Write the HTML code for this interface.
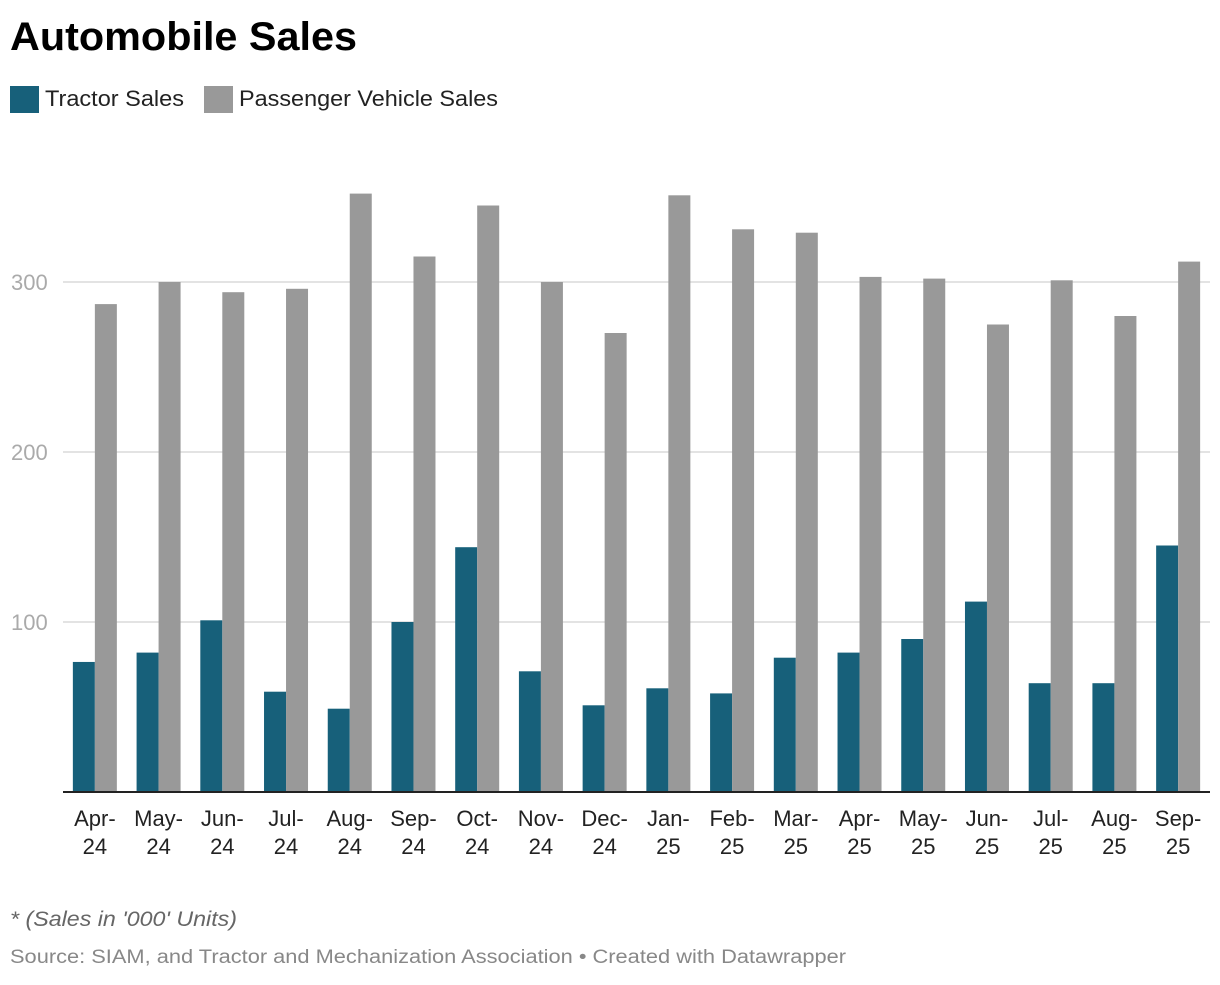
<!DOCTYPE html>
<html><head><meta charset="utf-8"><style>
body{margin:0;background:#fff;font-family:"Liberation Sans",Roboto,sans-serif;}
svg text{font-family:"Liberation Sans",sans-serif;}
</style></head><body>
<svg id="c" width="1220" height="980">
<text x="10" y="50" font-size="40" font-weight="bold" fill="#000" textLength="347" lengthAdjust="spacingAndGlyphs">Automobile Sales</text>
<g>
<rect x="10" y="86" width="29" height="27" fill="#17607a"/>
<text x="45" y="106" font-size="22" fill="#222" textLength="139" lengthAdjust="spacingAndGlyphs">Tractor Sales</text>
<rect x="204" y="86" width="29" height="27" fill="#999999"/>
<text x="239" y="106" font-size="22" fill="#222" textLength="259" lengthAdjust="spacingAndGlyphs">Passenger Vehicle Sales</text>
</g>
<g id="grid"></g><g id="bars"></g><g id="xl"></g>
<text x="10" y="926" font-size="21" font-style="italic" fill="#666" textLength="227" lengthAdjust="spacingAndGlyphs">* (Sales in '000' Units)</text>
<text x="10" y="963" font-size="19" fill="#888" textLength="836" lengthAdjust="spacingAndGlyphs">Source: SIAM, and Tractor and Mechanization Association • Created with Datawrapper</text>
</svg>
<script>
const months=["Apr-","May-","Jun-","Jul-","Aug-","Sep-","Oct-","Nov-","Dec-","Jan-","Feb-","Mar-","Apr-","May-","Jun-","Jul-","Aug-","Sep-"];
const years=["24","24","24","24","24","24","24","24","24","25","25","25","25","25","25","25","25","25"];
const tractor=[76.5,82,101,59,49,100,144,71,51,61,58,79,82,90,112,64,64,145];
const passenger=[287,300,294,296,352,315,345,300,270,351,331,329,303,302,275,301,280,312];
const ticks=[100,200,300];
const NS="http://www.w3.org/2000/svg";
const x0=63,x1=1210,y0=792,pxPer=1.7;
const bw=(x1-x0)/months.length;
const y=v=>y0-v*pxPer;
function mk(t,a,p){const e=document.createElementNS(NS,t);for(const k in a)e.setAttribute(k,a[k]);p.appendChild(e);return e;}
const grid=document.getElementById('grid'),bars=document.getElementById('bars'),xl=document.getElementById('xl');
ticks.forEach(t=>{
 const l=mk('line',{x1:x0,x2:x1,y1:y(t),y2:y(t),stroke:'#e3e3e3','stroke-width':2},grid);
 
 
 const tx=mk('text',{x:11,y:y(t)+8,'font-size':22,fill:'#aaa'},grid);tx.textContent=t;
 
 
});
months.forEach((m,i)=>{
 const c=x0+bw*(i+0.5);
 const r1=mk('rect',{x:c-22,y:y(tractor[i]),width:22,height:tractor[i]*pxPer,fill:'#17607a'},bars);
 
 
 const r2=mk('rect',{x:c,y:y(passenger[i]),width:22,height:passenger[i]*pxPer,fill:'#999999'},bars);
 
 
 const t=mk('text',{x:c,y:826,'font-size':22,fill:'#222','text-anchor':'middle'},xl);
 
 
 mk('tspan',{x:c},t).textContent=m;
 mk('tspan',{x:c,dy:28},t).textContent=years[i];
});
const base=mk('line',{x1:x0,x2:x1,y1:y0,y2:y0,stroke:'#222','stroke-width':2},bars);


</script>
</body></html>
